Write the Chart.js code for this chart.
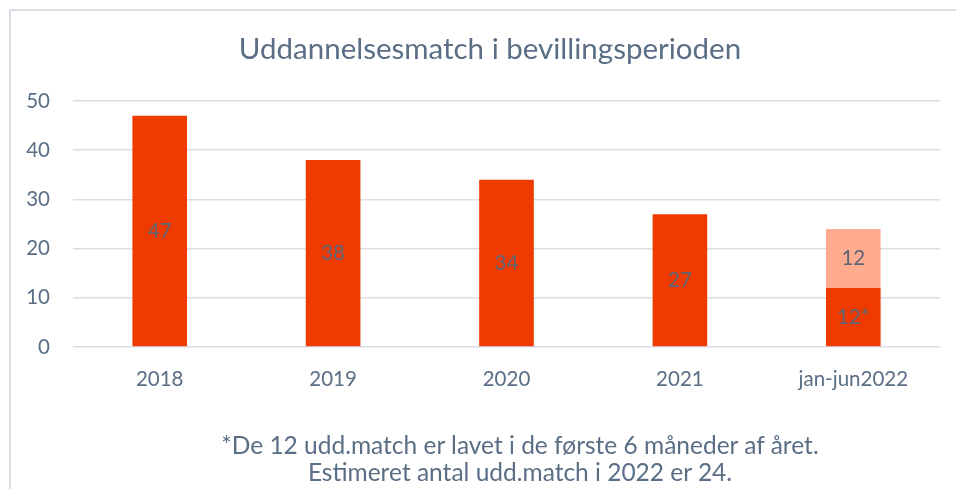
<!DOCTYPE html>
<html>
<head>
<meta charset="utf-8">
<script src="https://cdn.jsdelivr.net/npm/chart.js@4"></script>
<style>
  html, body { margin: 0; padding: 0; background: #fff; }
  #wrap { position: relative; width: 956px; height: 489px; overflow: hidden; }
  #frame { position: absolute; left: 9px; top: 9px; width: 1000px; height: 600px;
           border-left: 2px solid #d9dee4; border-top: 2px solid #d9dee4; }
  canvas { position: absolute; left: 0; top: 0; }
  #note { position: absolute; left: 0; width: 1040px; top: 431px; text-align: center;
          font-family: Lato, "Open Sans", sans-serif; font-size: 24.5px; line-height: 27px; color: #5a6e86; }
</style>
</head>
<body>
<div id="wrap">
  <div id="frame"></div>
  <canvas id="myChart" width="956" height="489"></canvas>
  <div id="note">*De 12 udd.match er lavet i de første 6 måneder af året.<br>Estimeret antal udd.match i 2022 er 24.</div>
</div>
<script>
// data
const categories = ['2018', '2019', '2020', '2021', 'jan-jun2022'];
const matchValues = [47, 38, 34, 27, 12];
const estimateValues = [null, null, null, null, 12];
const matchLabels = ['47', '38', '34', '27', '12*'];
const estimateLabels = ['', '', '', '', '12'];
const yTicks = [0, 10, 20, 30, 40, 50];

const textColor = '#5a6e86';
const fontName = 'Lato, "Open Sans", sans-serif';

// draws the value in the middle of every bar segment
const barLabels = {
    id: 'barLabels',
    afterLayout(chart) {
        // title sits a bit right of the canvas centre in the original
        if (chart.titleBlock) chart.titleBlock.left = 40;
    },
    afterDatasetsDraw(chart) {
        const ctx = chart.ctx;
        ctx.save();
        ctx.font = '20.5px ' + fontName;
        ctx.fillStyle = '#5c6575';
        ctx.textAlign = 'center';
        ctx.textBaseline = 'middle';
        chart.data.datasets.forEach((ds, i) => {
            const meta = chart.getDatasetMeta(i);
            meta.data.forEach((bar, j) => {
                const txt = ds.barText[j];
                if (!txt) return;
                ctx.fillText(txt, bar.x, (bar.y + bar.base) / 2);
            });
        });
        ctx.restore();
    }
};

let myChart = document.getElementById('myChart').getContext('2d');
let barChart = new Chart(myChart, {
    type: 'bar',
    data: {
        labels: categories,
        datasets: [{
            label: 'Udd.match',
            data: matchValues,
            barText: matchLabels,
            backgroundColor: '#ef3b00'
        }, {
            label: 'Estimeret',
            data: estimateValues,
            barText: estimateLabels,
            backgroundColor: '#ffab8e'
        }]
    },
    options: {
        responsive: false,
        animation: false,
        layout: { padding: { top: 32, right: 16, bottom: 92, left: 0 } },
        datasets: { bar: { categoryPercentage: 1, barPercentage: 0.315 } },
        plugins: {
            legend: { display: false },
            tooltip: { enabled: false },
            title: {
                display: true,
                text: 'Uddannelsesmatch i bevillingsperioden',
                color: textColor,
                font: { family: fontName, size: 29.5, weight: 'normal', lineHeight: 1.2 },
                padding: { top: 0, bottom: 33.6 }
            }
        },
        scales: {
            x: {
                stacked: true,
                grid: { display: false, drawTicks: false },
                border: { display: false },
                ticks: { color: textColor, padding: 20, font: { family: fontName, size: 20.5 } },
                afterFit(scale) { scale.height = 50; }
            },
            y: {
                stacked: true,
                min: 0,
                max: 50,
                afterBuildTicks(scale) { scale.ticks = yTicks.map(v => ({ value: v })); },
                grid: { color: '#d9dee4', lineWidth: 1.5, drawTicks: false },
                border: { display: false },
                ticks: { color: textColor, padding: 23, font: { family: fontName, size: 20.5 } },
                afterFit(scale) { scale.width = 73; }
            }
        }
    },
    plugins: [barLabels]
});
</script>
</body>
</html>
